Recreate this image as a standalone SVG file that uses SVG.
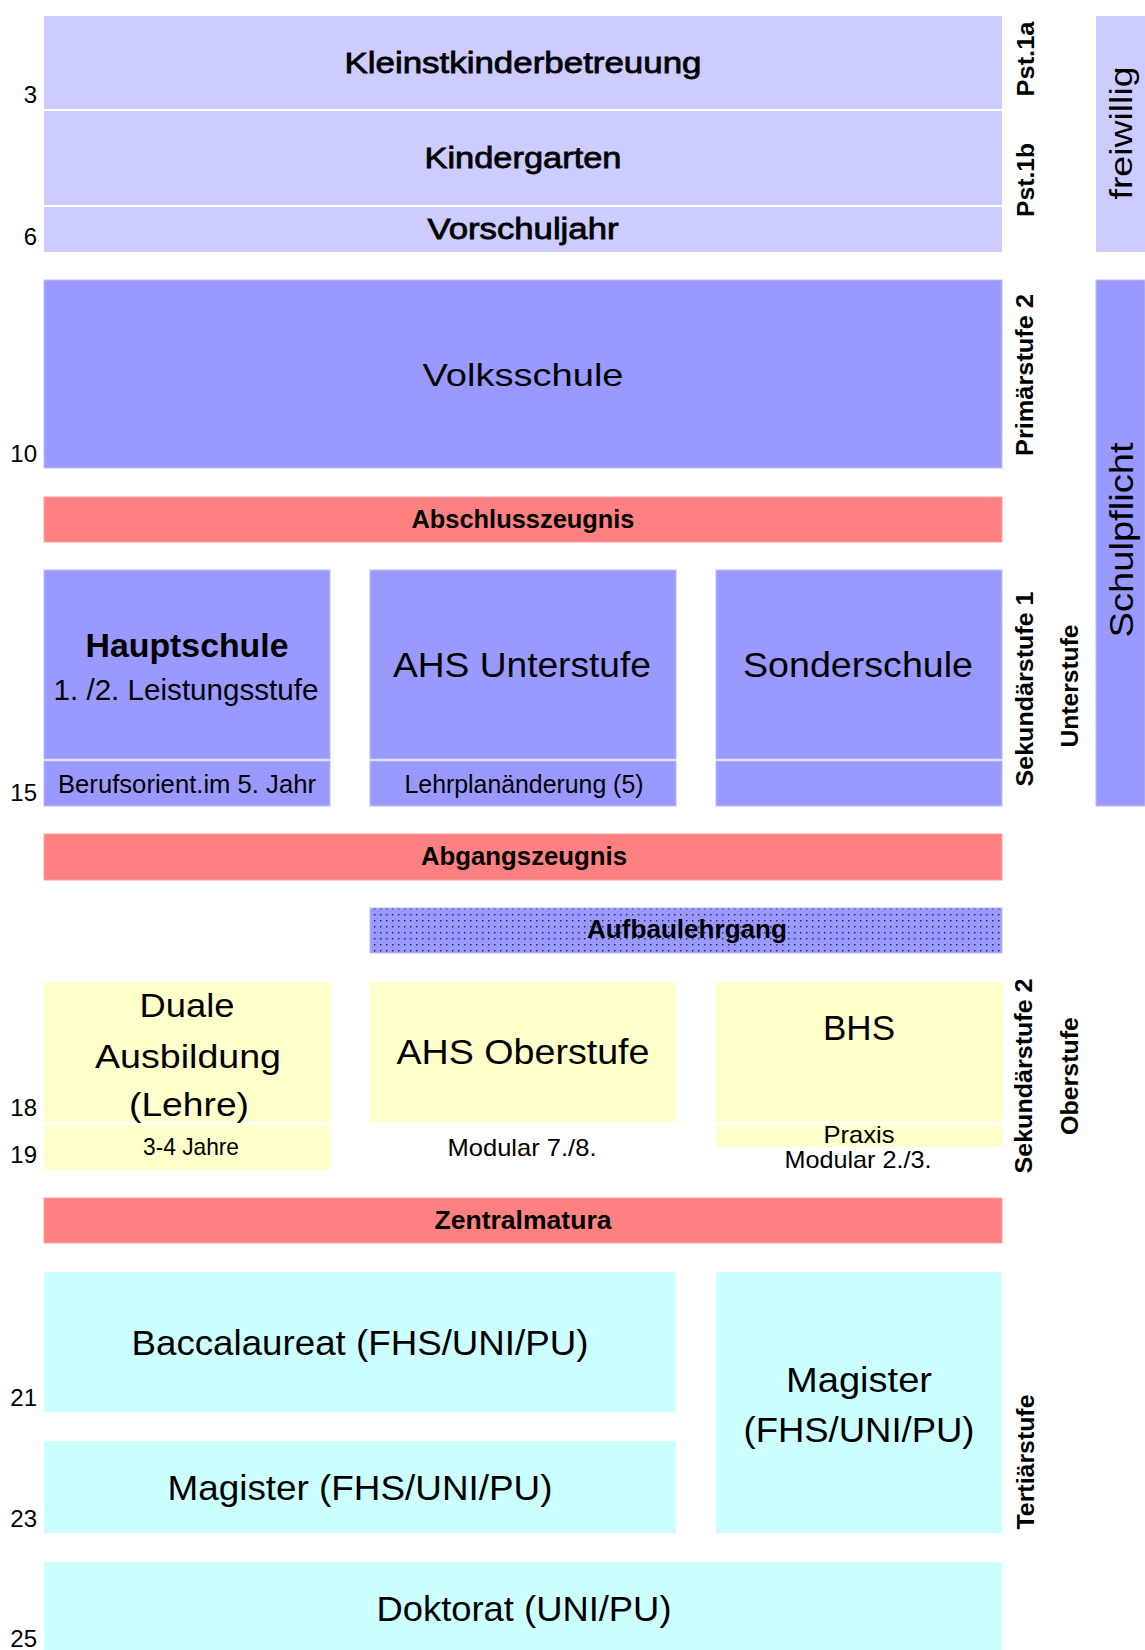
<svg xmlns="http://www.w3.org/2000/svg" width="1145" height="1650" viewBox="0 0 1145 1650">
<style>
text{font-family:"Liberation Sans",Arial,sans-serif;fill:#000;text-anchor:middle}
.light{fill:#CCCCFF}
.blue{fill:#9999FF;stroke:#BBBBFF;stroke-width:1}
.red{fill:#FF8080;stroke:#FFA0A0;stroke-width:1}
.yel{fill:#FFFFCC}
.cyan{fill:#CCFFFF}
.b{font-weight:bold}
.med{stroke:#000;stroke-width:0.8}
.num{text-anchor:end;font-size:24px}
.vl{font-weight:bold;font-size:24px}
</style>
<defs>
<pattern id="dots" width="6" height="6" patternUnits="userSpaceOnUse">
<rect width="6" height="6" fill="#9999FF"/>
<rect x="2" y="2" width="1.4" height="1.4" fill="#202040"/>
</pattern>
</defs>
<rect width="1145" height="1650" fill="#FFFFFF"/>

<g id="ages">
<text class="num" x="37" y="103">3</text>
<text class="num" x="37" y="245">6</text>
<text class="num" x="37" y="462">10</text>
<text class="num" x="37" y="801">15</text>
<text class="num" x="37" y="1116">18</text>
<text class="num" x="37" y="1163">19</text>
<text class="num" x="37" y="1406">21</text>
<text class="num" x="37" y="1527">23</text>
<text class="num" x="37" y="1647">25</text>
</g>

<g id="kleinstkinder">
<rect class="light" x="44" y="16" width="958" height="93"/>
<text class="med" x="523" y="73" font-size="30" textLength="357" lengthAdjust="spacingAndGlyphs">Kleinstkinderbetreuung</text>
</g>
<g id="kindergarten">
<rect class="light" x="44" y="111" width="958" height="94"/>
<text class="med" x="523" y="168" font-size="30" textLength="197" lengthAdjust="spacingAndGlyphs">Kindergarten</text>
</g>
<g id="vorschuljahr">
<rect class="light" x="44" y="207" width="958" height="45"/>
<text class="med" x="523" y="239" font-size="30" textLength="191" lengthAdjust="spacingAndGlyphs">Vorschuljahr</text>
</g>
<g id="freiwillig">
<rect class="light" x="1096" y="16" width="49" height="236"/>
<text transform="translate(1132,133) rotate(-90)" font-size="32" textLength="133" lengthAdjust="spacingAndGlyphs">freiwillig</text>
</g>

<g id="volksschule">
<rect class="blue" x="44" y="280" width="958" height="188"/>
<text x="523" y="386" font-size="32" textLength="201" lengthAdjust="spacingAndGlyphs">Volksschule</text>
</g>
<g id="schulpflicht">
<rect class="blue" x="1096" y="280" width="49" height="526"/>
<text transform="translate(1133,540) rotate(-90)" font-size="34" textLength="195" lengthAdjust="spacingAndGlyphs">Schulpflicht</text>
</g>

<g id="abschlusszeugnis">
<rect class="red" x="44" y="497" width="958" height="45"/>
<text class="b" x="523" y="528" font-size="25" textLength="223" lengthAdjust="spacingAndGlyphs">Abschlusszeugnis</text>
</g>

<g id="hauptschule">
<rect class="blue" x="44" y="570" width="286" height="189"/>
<rect class="blue" x="44" y="761" width="286" height="45"/>
<text class="b" x="187" y="657" font-size="33" textLength="203" lengthAdjust="spacingAndGlyphs">Hauptschule</text>
<text x="186" y="700" font-size="30" textLength="265" lengthAdjust="spacingAndGlyphs">1. /2. Leistungsstufe</text>
<text x="187" y="793" font-size="25" textLength="258" lengthAdjust="spacingAndGlyphs">Berufsorient.im 5. Jahr</text>
</g>
<g id="ahs-unterstufe">
<rect class="blue" x="370" y="570" width="306" height="189"/>
<rect class="blue" x="370" y="761" width="306" height="45"/>
<text x="522" y="677" font-size="35" textLength="258" lengthAdjust="spacingAndGlyphs">AHS Unterstufe</text>
<text x="524" y="793" font-size="25" textLength="239" lengthAdjust="spacingAndGlyphs">Lehrplanänderung (5)</text>
</g>
<g id="sonderschule">
<rect class="blue" x="716" y="570" width="286" height="189"/>
<rect class="blue" x="716" y="761" width="286" height="45"/>
<text x="858" y="677" font-size="35" textLength="230" lengthAdjust="spacingAndGlyphs">Sonderschule</text>
</g>

<g id="abgangszeugnis">
<rect class="red" x="44" y="834" width="958" height="46"/>
<text class="b" x="524" y="865" font-size="25" textLength="206" lengthAdjust="spacingAndGlyphs">Abgangszeugnis</text>
</g>

<g id="aufbaulehrgang">
<rect x="370" y="908" width="632" height="45" fill="url(#dots)" stroke="#BBBBFF" stroke-width="1"/>
<text class="b" x="687" y="938" font-size="25" textLength="200" lengthAdjust="spacingAndGlyphs">Aufbaulehrgang</text>
</g>

<g id="duale-ausbildung">
<rect class="yel" x="44" y="982" width="286" height="140"/>
<rect class="yel" x="44" y="1125" width="286" height="45"/>
<text x="187" y="1017" font-size="33" textLength="95" lengthAdjust="spacingAndGlyphs">Duale</text>
<text x="188" y="1068" font-size="33" textLength="186" lengthAdjust="spacingAndGlyphs">Ausbildung</text>
<text x="189" y="1116" font-size="33" textLength="120" lengthAdjust="spacingAndGlyphs">(Lehre)</text>
<text x="191" y="1155" font-size="24" textLength="96" lengthAdjust="spacingAndGlyphs">3-4 Jahre</text>
</g>
<g id="ahs-oberstufe">
<rect class="yel" x="370" y="982" width="306" height="140"/>
<text x="523" y="1064" font-size="35" textLength="253" lengthAdjust="spacingAndGlyphs">AHS Oberstufe</text>
<text x="522" y="1156" font-size="24" textLength="149" lengthAdjust="spacingAndGlyphs">Modular 7./8.</text>
</g>
<g id="bhs">
<rect class="yel" x="716" y="982" width="286" height="140"/>
<rect class="yel" x="716" y="1125" width="286" height="22"/>
<text x="859" y="1040" font-size="35" textLength="72" lengthAdjust="spacingAndGlyphs">BHS</text>
<text x="859" y="1143" font-size="24" textLength="71" lengthAdjust="spacingAndGlyphs">Praxis</text>
<text x="858" y="1168" font-size="24" textLength="147" lengthAdjust="spacingAndGlyphs">Modular 2./3.</text>
</g>

<g id="zentralmatura">
<rect class="red" x="44" y="1198" width="958" height="45"/>
<text class="b" x="523" y="1229" font-size="25" textLength="177" lengthAdjust="spacingAndGlyphs">Zentralmatura</text>
</g>

<g id="baccalaureat">
<rect class="cyan" x="44" y="1272" width="632" height="140"/>
<text x="360" y="1355" font-size="35" textLength="457" lengthAdjust="spacingAndGlyphs">Baccalaureat (FHS/UNI/PU)</text>
</g>
<g id="magister-links">
<rect class="cyan" x="44" y="1441" width="632" height="92"/>
<text x="360" y="1500" font-size="35" textLength="385" lengthAdjust="spacingAndGlyphs">Magister (FHS/UNI/PU)</text>
</g>
<g id="magister-rechts">
<rect class="cyan" x="716" y="1272" width="286" height="261"/>
<text x="859" y="1392" font-size="35" textLength="146" lengthAdjust="spacingAndGlyphs">Magister</text>
<text x="859" y="1442" font-size="35" textLength="231" lengthAdjust="spacingAndGlyphs">(FHS/UNI/PU)</text>
</g>
<g id="doktorat">
<rect class="cyan" x="44" y="1562" width="958" height="88"/>
<text x="524" y="1621" font-size="35" textLength="295" lengthAdjust="spacingAndGlyphs">Doktorat (UNI/PU)</text>
</g>

<g id="stufen">
<text class="vl" transform="translate(1034,59) rotate(-90)" textLength="75" lengthAdjust="spacingAndGlyphs">Pst.1a</text>
<text class="vl" transform="translate(1034,180) rotate(-90)" textLength="74" lengthAdjust="spacingAndGlyphs">Pst.1b</text>
<text class="vl" transform="translate(1033,375) rotate(-90)" textLength="162" lengthAdjust="spacingAndGlyphs">Primärstufe 2</text>
<text class="vl" transform="translate(1033,689) rotate(-90)" textLength="195" lengthAdjust="spacingAndGlyphs">Sekundärstufe 1</text>
<text class="vl" transform="translate(1078,686) rotate(-90)" textLength="123" lengthAdjust="spacingAndGlyphs">Unterstufe</text>
<text class="vl" transform="translate(1032,1076) rotate(-90)" textLength="195" lengthAdjust="spacingAndGlyphs">Sekundärstufe 2</text>
<text class="vl" transform="translate(1078,1076) rotate(-90)" textLength="118" lengthAdjust="spacingAndGlyphs">Oberstufe</text>
<text class="vl" transform="translate(1034,1462) rotate(-90)" textLength="135" lengthAdjust="spacingAndGlyphs">Tertiärstufe</text>
</g>
</svg>
